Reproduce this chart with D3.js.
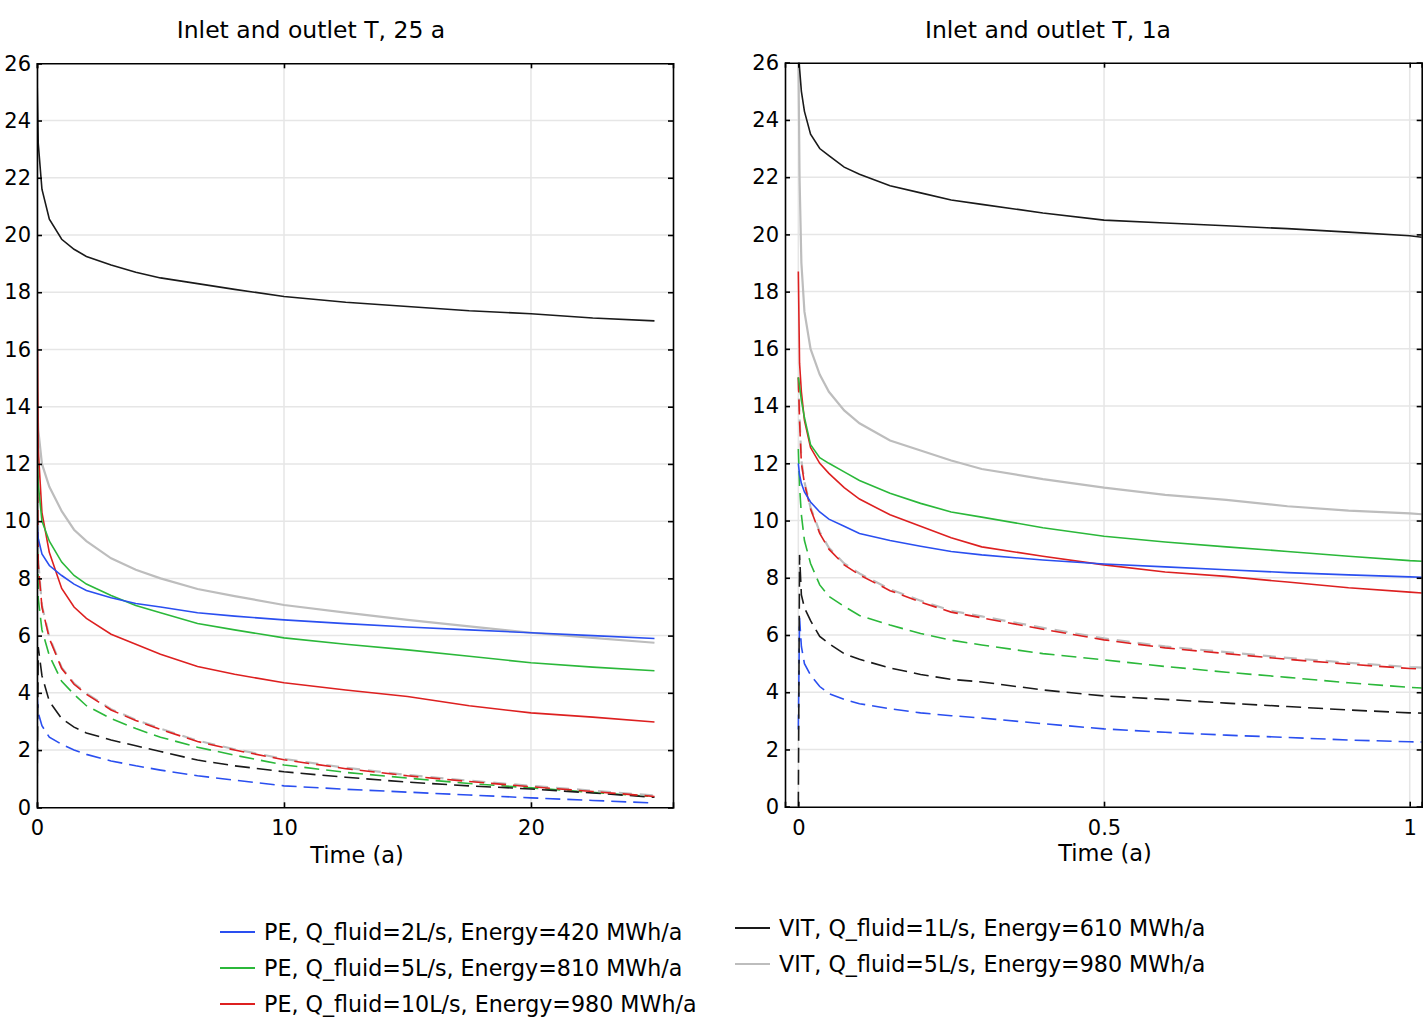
<!DOCTYPE html>
<html>
<head>
<meta charset="utf-8">
<script src="https://cdn.jsdelivr.net/npm/d3@7"></script>
<style>
  html, body { margin: 0; padding: 0; background: #fff; }
  svg { display: block; font-family: "DejaVu Sans", Verdana, sans-serif; }
</style>
</head>
<body>
<svg id="chart" width="1428" height="1022"></svg>
<script>
// ---------------- DATA ----------------
const yTicks = [0, 2, 4, 6, 8, 10, 12, 14, 16, 18, 20, 22, 24, 26];
const leftXTicks = [0, 10, 20];
const rightXTicks = [0, 0.5, 1];
const leftTitle = "Inlet and outlet T, 25 a";
const rightTitle = "Inlet and outlet T, 1a";
const xLabel = "Time (a)";

const seriesNames = [
  "PE, Q_fluid=2L/s, Energy=420 MWh/a",
  "PE, Q_fluid=5L/s, Energy=810 MWh/a",
  "PE, Q_fluid=10L/s, Energy=980 MWh/a",
  "VIT, Q_fluid=1L/s, Energy=610 MWh/a",
  "VIT, Q_fluid=5L/s, Energy=980 MWh/a"
];
const seriesColors = ["#2a4ff0", "#2bb83a", "#dd2020", "#1a1a1a", "#bdbdbd"];

// Left panel (25 years)
const timeLeft = [0, 0.05, 0.2, 0.5, 1, 1.5, 2, 3, 4, 5, 6.5, 8, 10, 12.5, 15, 17.5, 20, 22.5, 25];
const leftPE2Out  = [10.0, 9.4, 8.85, 8.45, 8.1, 7.8, 7.58, 7.32, 7.12, 7.0, 6.8, 6.68, 6.55, 6.42, 6.3, 6.2, 6.1, 6.0, 5.9];
const leftPE2In   = [4.0, 3.3, 2.85, 2.45, 2.2, 2.0, 1.85, 1.62, 1.45, 1.3, 1.1, 0.95, 0.75, 0.63, 0.53, 0.43, 0.33, 0.24, 0.15];
const leftPE5Out  = [12.5, 11.3, 10.0, 9.3, 8.57, 8.1, 7.8, 7.4, 7.05, 6.8, 6.42, 6.2, 5.92, 5.7, 5.5, 5.28, 5.05, 4.9, 4.77];
const leftPE5In   = [12.0, 7.3, 6.2, 5.3, 4.4, 3.95, 3.55, 3.1, 2.75, 2.45, 2.1, 1.82, 1.48, 1.22, 1.02, 0.83, 0.68, 0.52, 0.37];
const leftPE10Out = [18.7, 12.5, 10.3, 8.9, 7.65, 7.0, 6.6, 6.05, 5.7, 5.35, 4.92, 4.65, 4.35, 4.1, 3.87, 3.55, 3.3, 3.15, 2.98];
const leftPE10In  = [15.0, 8.5, 7.0, 5.9, 4.85, 4.3, 3.95, 3.4, 3.03, 2.72, 2.3, 2.0, 1.66, 1.35, 1.1, 0.9, 0.72, 0.55, 0.38];
const leftVIT1Out = [25.6, 23.2, 21.6, 20.55, 19.85, 19.5, 19.25, 18.95, 18.7, 18.5, 18.3, 18.1, 17.85, 17.65, 17.5, 17.35, 17.25, 17.1, 17.0];
const leftVIT1In  = [0.0, 5.6, 4.6, 3.7, 3.1, 2.8, 2.6, 2.35, 2.15, 1.95, 1.65, 1.45, 1.24, 1.05, 0.88, 0.75, 0.64, 0.5, 0.35];
const leftVIT5Out = [14.5, 13.2, 12.0, 11.2, 10.35, 9.7, 9.3, 8.7, 8.3, 8.0, 7.63, 7.38, 7.07, 6.8, 6.55, 6.32, 6.1, 5.92, 5.75];
const leftVIT5In  = [14.5, 8.6, 7.05, 5.95, 4.88, 4.33, 3.98, 3.43, 3.06, 2.75, 2.33, 2.03, 1.69, 1.38, 1.13, 0.93, 0.75, 0.58, 0.41];

// Right panel (1 year)
const timeRight = [0, 0.002, 0.005, 0.01, 0.02, 0.035, 0.05, 0.075, 0.1, 0.15, 0.2, 0.25, 0.3, 0.4, 0.5, 0.6, 0.7, 0.8, 0.9, 1.0, 1.02];
const rightPE2Out  = [12.0, 11.6, 11.3, 11.0, 10.65, 10.3, 10.05, 9.8, 9.55, 9.3, 9.1, 8.92, 8.8, 8.62, 8.48, 8.38, 8.28, 8.18, 8.1, 8.03, 8.02];
const rightPE2In   = [2.7, 6.6, 5.6, 5.0, 4.6, 4.2, 3.95, 3.75, 3.6, 3.42, 3.28, 3.18, 3.1, 2.9, 2.72, 2.6, 2.5, 2.42, 2.33, 2.27, 2.26];
const rightPE5Out  = [15.0, 14.7, 14.2, 13.6, 12.65, 12.2, 12.0, 11.7, 11.4, 10.95, 10.6, 10.3, 10.12, 9.75, 9.45, 9.25, 9.08, 8.92, 8.75, 8.6, 8.58];
const rightPE5In   = [12.5, 11.2, 10.2, 9.3, 8.5, 7.75, 7.35, 7.0, 6.68, 6.35, 6.05, 5.82, 5.65, 5.35, 5.13, 4.9, 4.7, 4.52, 4.33, 4.17, 4.15];
const rightPE10Out = [18.7, 15.5, 14.5, 13.5, 12.55, 12.0, 11.65, 11.15, 10.75, 10.2, 9.8, 9.4, 9.08, 8.75, 8.45, 8.2, 8.05, 7.85, 7.65, 7.5, 7.47];
const rightPE10In  = [15.0, 13.5, 12.0, 11.3, 10.4, 9.55, 9.0, 8.45, 8.1, 7.55, 7.15, 6.8, 6.6, 6.2, 5.83, 5.55, 5.35, 5.15, 4.98, 4.83, 4.81];
const rightVIT1Out = [26.5, 25.8, 25.0, 24.3, 23.5, 23.0, 22.75, 22.35, 22.1, 21.7, 21.45, 21.2, 21.05, 20.75, 20.5, 20.4, 20.3, 20.2, 20.08, 19.95, 19.9];
const rightVIT1In  = [0.0, 8.8, 7.4, 6.95, 6.5, 5.95, 5.7, 5.35, 5.15, 4.85, 4.62, 4.45, 4.36, 4.08, 3.87, 3.75, 3.62, 3.5, 3.38, 3.28, 3.27];
const rightVIT5Out = [26.5, 22.0, 19.0, 17.3, 16.0, 15.1, 14.5, 13.85, 13.4, 12.8, 12.45, 12.1, 11.8, 11.45, 11.15, 10.9, 10.72, 10.5, 10.35, 10.25, 10.22];
const rightVIT5In  = [15.0, 13.6, 12.1, 11.35, 10.45, 9.6, 9.05, 8.5, 8.15, 7.6, 7.2, 6.85, 6.65, 6.25, 5.88, 5.6, 5.4, 5.2, 5.03, 4.88, 4.86];

// ---------------- DRAW ----------------
const svg = d3.select("#chart");

const panels = [
  {
    id: "L", title: leftTitle, titleX: 311,
    x0: 37, x1: 673, y0: 63.3, y1: 807.3,
    xDomain: [0, 25.75], xTicks: leftXTicks, fmt: d => d3.format("d")(d),
    xLabelX: 357, xLabelY: 863,
    time: timeLeft,
    outs: [leftPE2Out, leftPE5Out, leftPE10Out, leftVIT1Out, leftVIT5Out],
    ins:  [leftPE2In, leftPE5In, leftPE10In, leftVIT1In, leftVIT5In]
  },
  {
    id: "R", title: rightTitle, titleX: 1048,
    x0: 785, x1: 1421.7, y0: 62.7, y1: 806.7,
    xDomain: [-0.0218, 1.0196], xTicks: rightXTicks, fmt: d => (d === 0.5 ? "0.5" : d3.format("d")(d)),
    xLabelX: 1105, xLabelY: 861,
    time: timeRight,
    outs: [rightPE2Out, rightPE5Out, rightPE10Out, rightVIT1Out, rightVIT5Out],
    ins:  [rightPE2In, rightPE5In, rightPE10In, rightVIT1In, rightVIT5In]
  }
];

const defs = svg.append("defs");

panels.forEach(p => {
  const x = d3.scaleLinear().domain(p.xDomain).range([p.x0, p.x1]);
  const y = d3.scaleLinear().domain([0, 26]).range([p.y1, p.y0]);
  const g = svg.append("g");

  defs.append("clipPath").attr("id", "clip" + p.id)
    .append("rect").attr("x", p.x0).attr("y", p.y0)
    .attr("width", p.x1 - p.x0).attr("height", p.y1 - p.y0);

  // gridlines
  g.append("g").selectAll("line").data(yTicks.filter(d => d > 0 && d < 26)).join("line")
    .attr("x1", p.x0).attr("x2", p.x1)
    .attr("y1", d => y(d)).attr("y2", d => y(d))
    .attr("stroke", "#e6e6e6").attr("stroke-width", 1.5);
  g.append("g").selectAll("line").data(p.xTicks).join("line")
    .attr("x1", d => x(d)).attr("x2", d => x(d))
    .attr("y1", p.y0).attr("y2", p.y1)
    .attr("stroke", "#e6e6e6").attr("stroke-width", 1.5);

  // lines
  const line = d3.line().x((d, i) => x(p.time[i])).y(d => y(d));
  const lg = g.append("g").attr("clip-path", `url(#clip${p.id})`).attr("fill", "none");
  const order = [0, 1, 3, 4, 2]; // draw gray dashed before red dashed
  // inlet (dashed)
  order.forEach(k => {
    lg.append("path").datum(p.ins[k])
      .attr("d", line)
      .attr("stroke", seriesColors[k])
      .attr("stroke-width", k === 4 ? 2.2 : 1.6)
      .attr("stroke-dasharray", k === 4 ? "13,8" : "15,7");
  });
  // outlet (solid)
  [4, 3, 2, 1, 0].forEach(k => {
    lg.append("path").datum(p.outs[k])
      .attr("d", line)
      .attr("stroke", seriesColors[k])
      .attr("stroke-width", k === 4 ? 2.2 : 1.6);
  });

  // axes (inward ticks)
  const axL = g.append("g").attr("transform", `translate(${p.x0},0)`)
    .call(d3.axisLeft(y).tickValues(yTicks).tickSize(-5).tickPadding(6).tickFormat(d3.format("d")));
  const axR = g.append("g").attr("transform", `translate(${p.x1},0)`)
    .call(d3.axisRight(y).tickValues(yTicks).tickSize(-5).tickFormat(""));
  const axB = g.append("g").attr("transform", `translate(0,${p.y1})`)
    .call(d3.axisBottom(x).tickValues(p.xTicks).tickSize(-5).tickPadding(13).tickFormat(p.fmt));
  const axT = g.append("g").attr("transform", `translate(0,${p.y0})`)
    .call(d3.axisTop(x).tickValues(p.xTicks).tickSize(-5).tickFormat(""));
  [axL, axR, axB, axT].forEach(a => {
    a.select(".domain").attr("stroke", "#000").attr("stroke-width", 1.6);
    a.selectAll(".tick line").attr("stroke", "#000").attr("stroke-width", 1.6);
    a.selectAll(".tick text").attr("fill", "#000")
      .style("font-family", "'DejaVu Sans', Verdana, sans-serif").style("font-size", "21px");
  });

  // title & x label
  g.append("text").attr("x", p.titleX).attr("y", 38).attr("text-anchor", "middle")
    .style("font-size", "23.5px").attr("fill", "#000").text(p.title);
  g.append("text").attr("x", p.xLabelX).attr("y", p.xLabelY).attr("text-anchor", "middle")
    .style("font-size", "22.5px").attr("fill", "#000").text(xLabel);
});

// legend
const legendPos = [
  {x: 220, y: 932}, {x: 220, y: 968}, {x: 220, y: 1004},
  {x: 735, y: 928}, {x: 735, y: 964}
];
const leg = svg.append("g");
seriesNames.forEach((name, k) => {
  const pos = legendPos[k];
  leg.append("line").attr("x1", pos.x).attr("x2", pos.x + 35)
    .attr("y1", pos.y).attr("y2", pos.y)
    .attr("stroke", seriesColors[k]).attr("stroke-width", 2);
  leg.append("text").attr("x", pos.x + 44).attr("y", pos.y + 8)
    .style("font-size", "22.2px").attr("fill", "#000").text(name);
});
</script>
</body>
</html>
